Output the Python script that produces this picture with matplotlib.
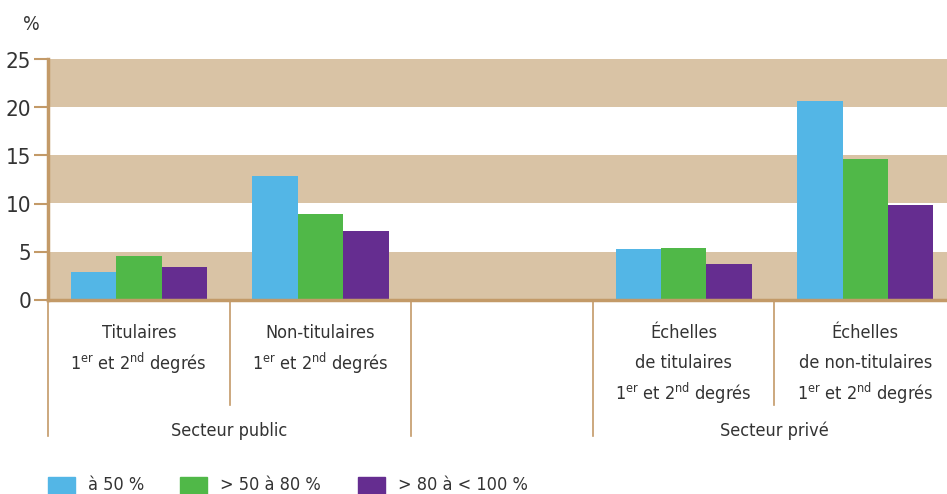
import matplotlib.pyplot as plt
import numpy as np

# data
categories = [
    ["Titulaires", "1$^{\\mathrm{er}}$ et 2$^{\\mathrm{nd}}$ degrés"],
    ["Non-titulaires", "1$^{\\mathrm{er}}$ et 2$^{\\mathrm{nd}}$ degrés"],
    [],
    ["Échelles", "de titulaires", "1$^{\\mathrm{er}}$ et 2$^{\\mathrm{nd}}$ degrés"],
    ["Échelles", "de non-titulaires", "1$^{\\mathrm{er}}$ et 2$^{\\mathrm{nd}}$ degrés"],
]
sectors = ["Secteur public", "Secteur privé"]
series_names = ["à 50 %", "> 50 à 80 %", "> 80 à < 100 %"]
a_50 = [2.9, 12.9, None, 5.3, 20.7]
de_50_80 = [4.5, 8.9, None, 5.4, 14.6]
de_80_100 = [3.4, 7.1, None, 3.7, 9.8]

COLORS = ["#53b6e6", "#50b848", "#652d90"]
BAND = "#d9c3a5"
AXIS = "#c39a68"
TXT = "#333333"

plt.rcParams['font.family'] = ['DejaVu Sans']
plt.rcParams['font.stretch'] = 'condensed'
plt.rcParams['mathtext.fontset'] = 'custom'
plt.rcParams['mathtext.rm'] = 'DejaVu Sans:stretch=condensed'

W, H = 947, 494
fig = plt.figure(figsize=(W / 100, H / 100), dpi=100)
left, right, top, bottom = 48, 947, 59.5, 299.5
ax = fig.add_axes([left / W, (H - bottom) / H, (right - left) / W, (bottom - top) / H])

for lo in (0, 10, 20):
    ax.axhspan(lo, lo + 5, color=BAND, zorder=0, lw=0)

bw = 0.25
for k, vals in enumerate([a_50, de_50_80, de_80_100]):
    xs = [i + (k - 1) * bw for i, v in enumerate(vals) if v is not None]
    ys = [v for v in vals if v is not None]
    ax.bar(xs, ys, width=bw, color=COLORS[k], zorder=2, label=series_names[k])

ax.set_ylim(0, 25)
ax.set_xlim(-0.5, -0.5 + (right - left) / 181.6)
ax.set_yticks([0, 5, 10, 15, 20, 25])
ax.set_xticks([])
ax.tick_params(axis='y', length=10, width=1.5, color=AXIS, labelsize=16,
               labelcolor=TXT, pad=2)
for s in ('top', 'right'):
    ax.spines[s].set_visible(False)
for s in ('left', 'bottom'):
    ax.spines[s].set_color(AXIS)
    ax.spines[s].set_linewidth(2.5)
    ax.spines[s].set_zorder(3)

fig.text(31 / W, (H - 25) / H, "%", fontsize=14, color=TXT,
         ha='center', va='center')

# lower category area
ph = bottom - top
tr = ax.get_xaxis_transform()


def yfrac(py):
    return -(py - bottom) / ph


for xb, py in [(-0.5, 436), (0.5, 405), (1.5, 436), (2.5, 436), (3.5, 405)]:
    ax.plot([xb, xb], [0, yfrac(py)], color=AXIS, lw=1.2, transform=tr,
            clip_on=False)

for i, lines in enumerate(categories):
    for j, line in enumerate(lines):
        ax.text(i, yfrac(333 + 30 * j), line, transform=tr, ha='center',
                va='center', fontsize=13, color=TXT)

for xc, name in zip([0.5, 3.5], sectors):
    ax.text(xc, yfrac(431), name, transform=tr, ha='center', va='center',
            fontsize=13, color=TXT)

# legend
for k, (sx, tx) in enumerate([(48, 88), (180, 220), (358, 398)]):
    fig.patches.append(plt.Rectangle((sx / W, (H - 494) / H), 27 / W, 17 / H,
                                     transform=fig.transFigure,
                                     color=COLORS[k]))
    fig.text(tx / W, (H - 485) / H, series_names[k], fontsize=13, color=TXT,
             ha='left', va='center')

plt.savefig("out.png", dpi=100)
